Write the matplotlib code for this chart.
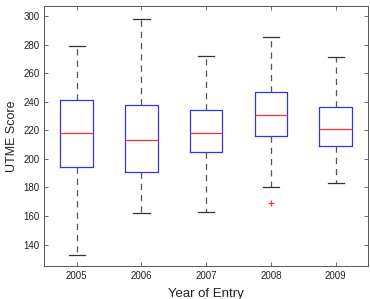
import matplotlib
matplotlib.use("Agg")
import matplotlib.pyplot as plt

# Box statistics (MATLAB-style boxplot)
years = ["2005", "2006", "2007", "2008", "2009"]
lower_whisker = [133, 162, 163, 180, 183]
q1 = [194, 191, 205, 216, 209]
median = [218, 213, 218, 231, 221]
q3 = [241, 238, 234, 247, 236]
upper_whisker = [279, 298, 272, 285, 271]
outliers = [[], [], [], [169], []]

plt.rcParams["font.family"] = ["Liberation Sans", "DejaVu Sans"]

stats = []
for i, yr in enumerate(years):
    stats.append({
        "label": yr,
        "whislo": lower_whisker[i],
        "q1": q1[i],
        "med": median[i],
        "q3": q3[i],
        "whishi": upper_whisker[i],
        "fliers": outliers[i],
    })

fig = plt.figure(figsize=(3.7, 2.99), dpi=100)
ax = fig.add_axes([0.1197, 0.1104, 0.875, 0.8696])

ax.bxp(
    stats,
    positions=range(1, len(years) + 1),
    widths=0.5,
    showfliers=True,
    boxprops=dict(color="#3333ee", linewidth=0.9),
    medianprops=dict(color="#ff3333", linewidth=0.9),
    whiskerprops=dict(color="#555555", linewidth=0.9, linestyle=(0, (5, 4))),
    capprops=dict(color="#333333", linewidth=0.9),
    flierprops=dict(marker="+", markeredgecolor="#ff3333", markersize=5,
                    markeredgewidth=0.9, linestyle="none"),
    capwidths=0.25,
)

ax.set_xlim(0.5, 5.5)
ax.set_ylim(125, 307)
ax.set_yticks(range(140, 301, 20))
ax.set_xticks(range(1, len(years) + 1))
ax.set_xticklabels(years)

ax.tick_params(direction="in", length=3, width=0.6, labelsize=7,
               top=True, right=True, colors="#555555", labelcolor="#222222")
for side in ax.spines.values():
    side.set_color("#555555")
    side.set_linewidth(0.7)

ax.set_ylabel("UTME Score", fontsize=9, color="#222222", labelpad=4)
ax.set_xlabel("Year of Entry", fontsize=9.5, color="#222222", labelpad=5)

fig.savefig("out.png", dpi=100)
